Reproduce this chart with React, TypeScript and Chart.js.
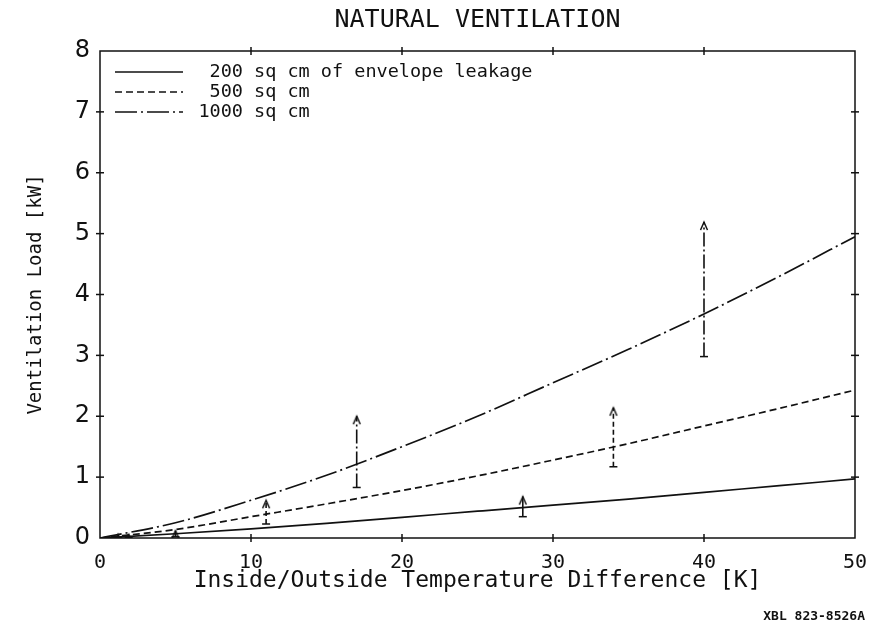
import React, { useEffect, useRef } from 'react';
import { Chart, registerables } from 'chart.js';

Chart.register(...registerables);

// Inside/outside temperature difference [K]
const tempDiff = [0, 5, 10, 15, 20, 25, 30, 35, 40, 45, 50];
// Ventilation load [kW] for each envelope leakage area
const load200 = [0, 0.07, 0.15, 0.24, 0.34, 0.44, 0.54, 0.64, 0.75, 0.86, 0.97];
const load500 = [0, 0.14, 0.35, 0.56, 0.78, 1.02, 1.28, 1.55, 1.84, 2.13, 2.43];
const load1000 = [0, 0.25, 0.62, 1.03, 1.5, 2.0, 2.55, 3.1, 3.68, 4.3, 4.95];

const seriesLabels = ['200 sq cm of envelope leakage', '500 sq cm', '1000 sq cm'];

// measured ranges (vertical arrows)
const arrowX200 = [5, 28];
const arrowLow200 = [0.02, 0.35];
const arrowHigh200 = [0.12, 0.68];
const arrowX500 = [1.9, 11, 34];
const arrowLow500 = [0.01, 0.23, 1.17];
const arrowHigh500 = [0.06, 0.62, 2.14];
const arrowX1000 = [1.2, 17, 40];
const arrowLow1000 = [0.01, 0.83, 2.98];
const arrowHigh1000 = [0.06, 2.0, 5.19];

const xTicks = [0, 10, 20, 30, 40, 50];
const yTicks = [0, 1, 2, 3, 4, 5, 6, 7, 8];

const MONO = '"DejaVu Sans Mono", monospace';
const INK = '#111';

export default function App() {
  const ref = useRef<HTMLCanvasElement>(null);

  useEffect(() => {
    const head = document.createElement('canvas');
    head.width = 12;
    head.height = 22;
    const hc = head.getContext('2d')!;
    hc.strokeStyle = INK;
    hc.lineWidth = 1.5;
    hc.beginPath();
    hc.moveTo(2.5, 19);
    hc.lineTo(6, 11);
    hc.lineTo(9.5, 19);
    hc.stroke();

    const dashes = [[], [7, 4], [22, 4, 2, 4]];
    const arrowDashes = [[], [5, 3], [14, 3, 2, 3]];
    const curves = [load200, load500, load1000].map((vals, i) => ({
      label: seriesLabels[i],
      data: tempDiff.map((x, k) => ({ x, y: vals[k] })),
      borderColor: INK,
      borderWidth: 1.7,
      borderDash: dashes[i],
      pointRadius: 0,
      cubicInterpolationMode: 'monotone' as const,
      fill: false,
    }));
    const groups = [
      [arrowX200, arrowLow200, arrowHigh200],
      [arrowX500, arrowLow500, arrowHigh500],
      [arrowX1000, arrowLow1000, arrowHigh1000],
    ];
    const arrows: any[] = [];
    groups.forEach(([xs, lows, highs], g) => {
      xs.forEach((x, k) => {
        arrows.push({
          label: seriesLabels[g] + ' range',
          data: [
            { x, y: lows[k] },
            { x, y: highs[k] },
          ],
          borderColor: INK,
          borderWidth: 1.6,
          borderDash: arrowDashes[g],
          pointStyle: ['line', head],
          pointRadius: [4, 6],
          pointBorderWidth: 1.5,
          pointBorderColor: INK,
          pointBackgroundColor: INK,
          fill: false,
        });
      });
    });

    const decor = {
      id: 'decor',
      afterDatasetsDraw(chart: any) {
        const { ctx, chartArea: a, scales } = chart;
        ctx.save();
        ctx.strokeStyle = INK;
        ctx.fillStyle = INK;
        ctx.lineWidth = 1.5;
        ctx.setLineDash([]);
        const seg = (x1: number, y1: number, x2: number, y2: number) => {
          ctx.beginPath();
          ctx.moveTo(x1, y1);
          ctx.lineTo(x2, y2);
          ctx.stroke();
        };
        ctx.strokeRect(a.left, a.top, a.right - a.left, a.bottom - a.top);
        yTicks.slice(1, -1).forEach((v) => {
          const py = scales.y.getPixelForValue(v);
          seg(a.left - 4, py, a.left + 4, py);
          seg(a.right - 4, py, a.right + 4, py);
        });
        xTicks.slice(1, -1).forEach((v) => {
          const px = scales.x.getPixelForValue(v);
          seg(px, a.bottom - 4, px, a.bottom + 4);
          seg(px, a.top - 4, px, a.top + 4);
        });
        // legend
        ctx.font = '18.5px ' + MONO;
        ctx.textBaseline = 'middle';
        chart.data.datasets.slice(0, 3).forEach((ds: any, i: number) => {
          const y = a.top + 21 + i * 20;
          ctx.lineWidth = 1.5;
          ctx.setLineDash(ds.borderDash || []);
          seg(a.left + 15, y, a.left + 83, y);
          ctx.setLineDash([]);
          const parts = String(ds.label).split(' ');
          const num = parts.shift() as string;
          ctx.textAlign = 'right';
          ctx.fillText(num, a.left + 143, y);
          ctx.textAlign = 'left';
          ctx.fillText(parts.join(' '), a.left + 154, y);
        });
        ctx.restore();
      },
    };

    const chart = new Chart(ref.current!, {
      type: 'line',
      data: { datasets: [...curves, ...arrows] },
      options: {
        responsive: false,
        animation: false,
        layout: { padding: { left: 0, right: 5, top: 0, bottom: 0 } },
        plugins: {
          legend: { display: false },
          tooltip: { enabled: false },
          title: {
            display: true,
            text: 'NATURAL VENTILATION',
            fullSize: false,
            color: INK,
            font: { family: MONO, size: 25, weight: 'normal' },
            padding: { top: 5, bottom: 16 },
          },
          subtitle: {
            display: true,
            text: 'XBL 823-8526A',
            position: 'bottom',
            align: 'end',
            color: INK,
            font: { family: MONO, size: 13, weight: 'bold' },
            padding: { top: 0, bottom: 8 },
          },
        },
        scales: {
          x: {
            type: 'linear',
            position: 'bottom',
            min: 0,
            max: 50,
            afterBuildTicks: (s: any) => {
              s.ticks = xTicks.map((value) => ({ value }));
            },
            ticks: {
              color: INK,
              font: { family: MONO, size: 20 },
              padding: 13,
              maxRotation: 0,
              autoSkip: false,
            },
            grid: { display: false, drawTicks: false },
            border: { display: false },
            title: {
              display: true,
              text: 'Inside/Outside Temperature Difference [K]',
              color: INK,
              font: { family: MONO, size: 23 },
              padding: { top: 0, bottom: 14 },
            },
            afterFit: (s: any) => {
              s.height = 70.4;
              s.paddingLeft = 0;
              s.paddingRight = 0;
            },
          },
          y: {
            type: 'linear',
            position: 'left',
            min: 0,
            max: 8,
            afterBuildTicks: (s: any) => {
              s.ticks = yTicks.map((value) => ({ value }));
            },
            ticks: {
              color: INK,
              font: { family: '"DejaVu Sans", sans-serif', size: 24 },
              padding: 10,
            },
            grid: { display: false, drawTicks: false },
            border: { display: false },
            title: {
              display: true,
              text: 'Ventilation Load [kW]',
              color: INK,
              font: { family: MONO, size: 19 },
              padding: { top: 25, bottom: 0 },
            },
            afterFit: (s: any) => {
              s.width = 100;
            },
          },
          y2: {
            type: 'linear',
            position: 'right',
            min: 0,
            max: 8,
            ticks: { display: false },
            grid: { display: false, drawTicks: false },
            border: { display: false },
            afterFit: (s: any) => {
              s.width = 10;
              s.paddingTop = 0;
              s.paddingBottom = 0;
            },
          },
        },
      },
      plugins: [decor],
    });
    return () => chart.destroy();
  }, []);

  return (
    <div style={{ position: 'absolute', left: 0, top: 0, width: 870, height: 632, background: '#fff' }}>
      <canvas ref={ref} width={870} height={632} style={{ width: 870, height: 632 }} />
    </div>
  );
}
